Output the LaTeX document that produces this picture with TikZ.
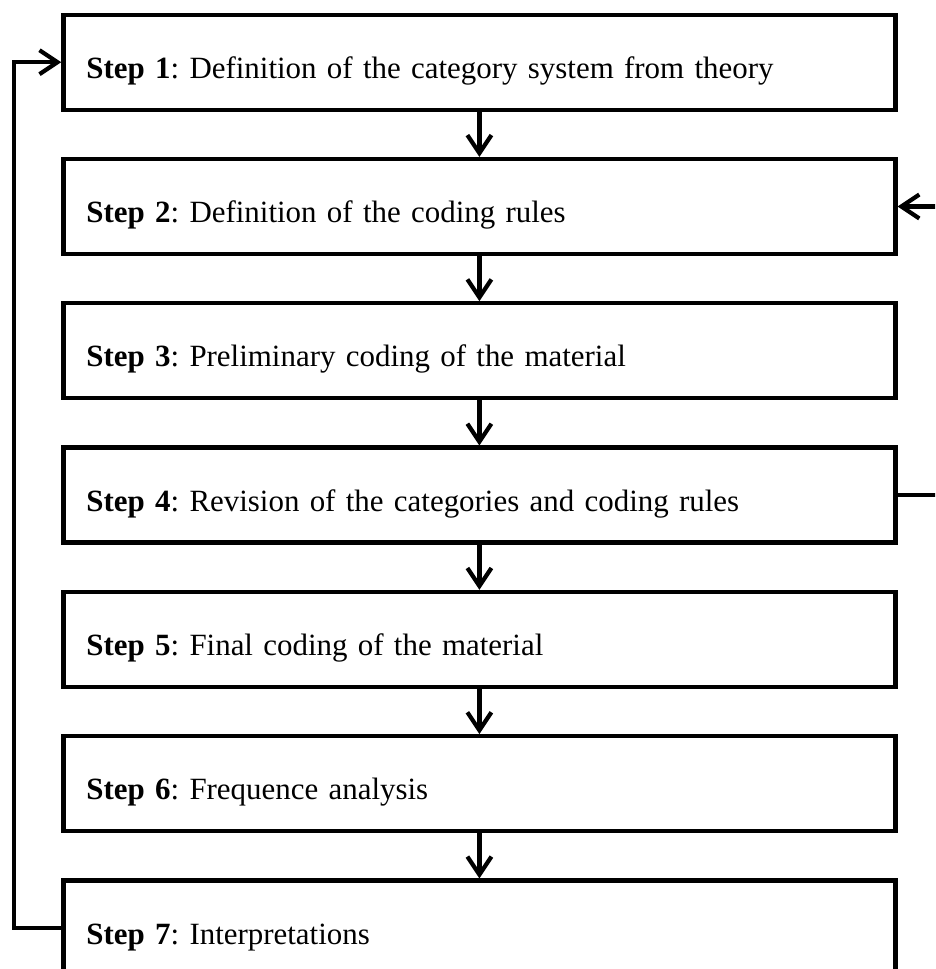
\documentclass[tikz,border=0pt]{standalone}
\usepackage{fontspec}
\setmainfont{Liberation Serif}
\usetikzlibrary{arrows.meta, positioning, calc}
\frenchspacing

\tikzset{
	stepbox/.style={draw, line width=3pt, minimum width=20.8cm, minimum height=2.375cm,
		text width=19.65cm, align=left, text height=0.8cm, text depth=0pt, inner sep=0pt,
		font=\fontsize{22}{26.5}\selectfont},
	flow/.style={line width=3pt, -{Straight Barb[length=0.45cm, width=0.6cm, line width=3pt]}}
}

\begin{document}
\begin{tikzpicture}
			% Frame
			\useasboundingbox (0,0) rectangle (23.375,-24.225);
			\clip (0,0) rectangle (23.375,-24.225);
			
			% Boxes
			\foreach \i/\txt in {1/Definition of the category system from theory,
				2/Definition of the coding rules,
				3/Preliminary coding of the material,
				4/Revision of the categories and coding rules,
				5/Final coding of the material,
				6/Frequence analysis,
				7/Interpretations} {
				\node[stepbox] (s\i) at (11.985,{-1.555-(\i-1)*3.6075}) {\textbf{Step \i}: \txt};
			}
			
			% Arrows between the steps
			\foreach \i/\j in {1/2,2/3,3/4,4/5,5/6,6/7} {
				\draw[flow] (s\i.south) -- (s\j.north);
			}
			
			% Feedback loops
			\draw[flow] (s7.west) -- ++(-1.18,0) |- (s1.west);
			\draw[flow] (s4.east) -- ++(1.4,0) |- (s2.east);
		\end{tikzpicture}
\end{document}
